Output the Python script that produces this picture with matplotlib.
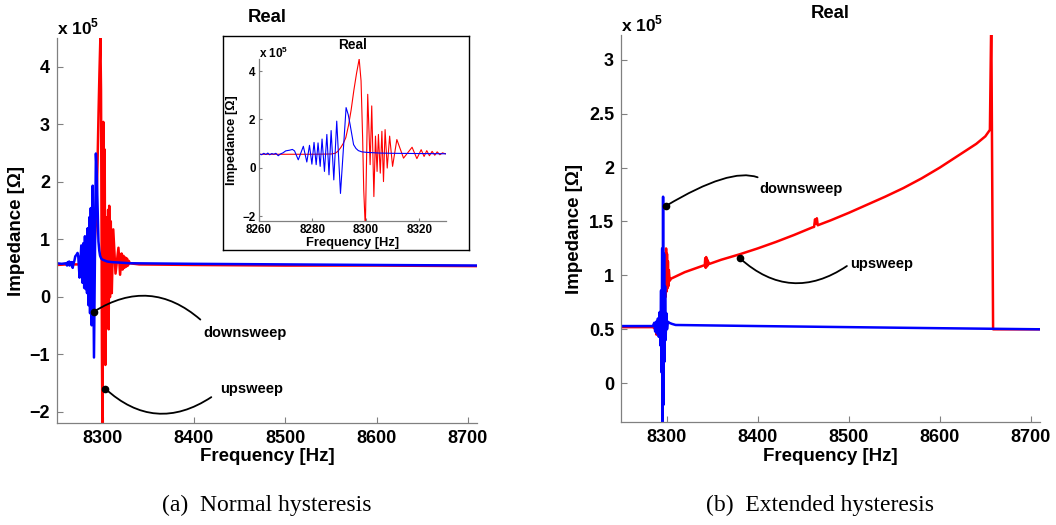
import matplotlib
matplotlib.use('Agg')
import matplotlib.pyplot as plt

plt.rcParams['font.family'] = ['Liberation Sans', 'DejaVu Sans']
plt.rcParams['font.weight'] = 'bold'
plt.rcParams['mathtext.fontset'] = 'custom'
plt.rcParams['mathtext.rm'] = 'Liberation Sans:bold'
plt.rcParams['mathtext.bf'] = 'Liberation Sans:bold'

# impedance values are in units of 1e5 Ohm
# (a) normal hysteresis - downsweep (blue)
freq_a_down = [8250, 8255, 8260, 8261, 8261.8, 8262.6, 8263.3, 8264, 8264.8, 8265.5,
               8266.3, 8267.2, 8268, 8269, 8270, 8271.5, 8272.5, 8273.3, 8274.7, 8276.6,
               8277.9, 8278.9, 8279.8, 8280.6, 8281.4, 8282.1, 8282.9, 8283.6, 8284.5, 8285.4,
               8286.2, 8287.0, 8288.0, 8289.1, 8290.5, 8292.6, 8293.4, 8294.1, 8295.4, 8296.3,
               8297.2, 8298.5, 8300.2, 8305, 8310, 8320, 8330, 8400, 8500, 8600, 8710]
z_a_down = [0.58, 0.57, 0.58, 0.54, 0.60, 0.55, 0.61, 0.54, 0.59, 0.56,
            0.60, 0.50, 0.57, 0.62, 0.70, 0.73, 0.76, 0.70, 0.33, 0.89,
            0.24, 0.93, 0.15, 1.05, 0.13, 1.03, 0.06, 1.19, -0.15, 1.38,
            -0.29, 1.54, -0.50, 1.93, -1.06, 2.49, 2.20, 1.79, 0.96, 0.80,
            0.71, 0.66, 0.64, 0.61, 0.60, 0.59, 0.58, 0.57, 0.56, 0.55, 0.54]

# (a) normal hysteresis - upsweep (red)
freq_a_up = [8250, 8260, 8270, 8280, 8287, 8288.5, 8289.5, 8290.5, 8291.5, 8292.5,
             8293.5, 8294.5, 8295.5, 8296.5, 8297.5, 8298.2, 8298.8, 8299.2, 8299.8, 8300.7,
             8301.6, 8302.2, 8303.0, 8303.6, 8304.2, 8304.7, 8305.4, 8306.0, 8306.6, 8307.2,
             8308.0, 8308.9, 8310.0, 8311.6, 8314.1, 8317.3, 8319.1, 8320.7, 8321.8, 8322.8,
             8323.8, 8324.8, 8325.8, 8326.7, 8327.7, 8328.7, 8329.7, 8340, 8400, 8500,
             8600, 8710]
z_a_up = [0.55, 0.56, 0.56, 0.56, 0.57, 0.60, 0.68, 0.82, 1.00, 1.25,
          1.75, 2.40, 3.20, 3.90, 4.50, 3.60, 1.20, -0.90, -2.50, 3.04,
          0.13, 2.56, -1.19, 1.31, -0.15, 1.38, -0.22, 1.51, -0.57, 1.58,
          -0.01, 1.31, 0.06, 1.17, 0.40, 0.85, 0.38, 0.75, 0.47, 0.71,
          0.50, 0.68, 0.52, 0.66, 0.54, 0.62, 0.58, 0.56, 0.55, 0.54,
          0.54, 0.53]

# (b) extended hysteresis - downsweep (blue)
freq_b_down = [8250, 8270, 8285, 8286.5, 8287.5, 8288.5, 8289.5, 8290.5, 8291.5, 8292.5,
               8293.3, 8294, 8294.6, 8295.2, 8295.6, 8296.2, 8296.7, 8297.3, 8297.8, 8298.4,
               8299, 8299.7, 8300.5, 8301.5, 8303, 8306, 8310, 8400, 8500, 8600, 8710]
z_b_down = [0.53, 0.53, 0.53, 0.56, 0.48, 0.57, 0.46, 0.60, 0.43, 0.66,
            0.35, 0.86, 0.10, 1.25, -0.60, 1.73, -0.20, 1.20, 0.20, 0.90,
            0.40, 0.65, 0.50, 0.57, 0.56, 0.55, 0.54, 0.53, 0.52, 0.51, 0.50]

# (b) extended hysteresis - upsweep (red)
freq_b_up = [8250, 8285, 8288, 8289, 8290, 8292, 8294, 8296, 8297, 8298,
             8298.5, 8299, 8299.5, 8300, 8300.5, 8301, 8301.5, 8302, 8302.5, 8303.5,
             8305, 8310, 8320, 8340, 8342, 8342.5, 8343, 8343.5, 8344, 8344.5,
             8345, 8345.5, 8346.5, 8360, 8380, 8400, 8420, 8440, 8460, 8462,
             8463, 8464, 8465, 8466, 8480, 8500, 8520, 8540, 8560, 8580,
             8600, 8620, 8640, 8650, 8655, 8656.5, 8658.5, 8680, 8710]
z_b_up = [0.52, 0.52, 0.50, 0.45, 0.53, 0.52, 0.55, 0.70, 0.90, 0.86,
          1.20, 0.80, 1.25, 0.85, 1.20, 0.88, 1.13, 0.90, 1.05, 0.95,
          0.97, 0.99, 1.03, 1.09, 1.095, 1.16, 1.07, 1.17, 1.08, 1.15,
          1.09, 1.13, 1.105, 1.145, 1.195, 1.25, 1.31, 1.375, 1.445, 1.45,
          1.52, 1.48, 1.53, 1.465, 1.51, 1.58, 1.655, 1.73, 1.81, 1.90,
          2.00, 2.11, 2.22, 2.29, 2.35, 3.40, 0.50, 0.50, 0.50]

freq_ticks = [8300, 8400, 8500, 8600, 8700]
inset_freq_ticks = [8260, 8280, 8300, 8320]
ticks_a = [-2, -1, 0, 1, 2, 3, 4]
inset_ticks = [-2, 0, 2, 4]
ticks_b = [0, 0.5, 1, 1.5, 2, 2.5, 3]
ticks_b_labels = ['0', '0.5', '1', '1.5', '2', '2.5', '3']

W, H = 1056, 525
fig = plt.figure(figsize=(W / 100, H / 100), dpi=100)

def px(x0, y0, x1, y1):
    return [x0 / W, 1 - y1 / H, (x1 - x0) / W, (y1 - y0) / H]

def style(ax, fs, pad):
    for s in ['top', 'right']:
        ax.spines[s].set_visible(False)
    for s in ['left', 'bottom']:
        ax.spines[s].set_color('#808080')
        ax.spines[s].set_linewidth(0.9)
    ax.tick_params(direction='in', length=4, width=0.8, color='#808080',
                   labelsize=fs, pad=pad)
    for lab in ax.get_xticklabels() + ax.get_yticklabels():
        lab.set_fontweight('bold')

def mark(ax, xy, end, label, label_xy, conn):
    ax.annotate('', xy=xy, xytext=end,
                arrowprops=dict(arrowstyle='-', connectionstyle=conn, color='k',
                                lw=1.3, shrinkA=0, shrinkB=0))
    ax.plot([xy[0]], [xy[1]], 'o', color='k', ms=4.5)
    ax.text(label_xy[0], label_xy[1], label, ha='left', va='center',
            fontsize=10.5, fontweight='bold')

# ---- (a) ----
axL = fig.add_axes(px(57, 38, 477, 423))
axL.plot(freq_a_up, z_a_up, color='#ff0000', lw=1.8)
axL.plot(freq_a_down, z_a_down, color='#0000ff', lw=1.8)
axL.set_xlim(8250, 8710)
axL.set_ylim(-2.2, 4.5)
axL.set_xticks(freq_ticks)
axL.set_yticks(ticks_a)
style(axL, 13, 5)
axL.set_title('Real', fontsize=13.3, fontweight='bold', pad=11.5)
axL.text(0, 1 + 4 / 385, r'x 10$^{5}$', transform=axL.transAxes, ha='left',
         va='baseline', fontsize=12.5, fontweight='bold')
axL.set_xlabel('Frequency [Hz]', fontsize=13.5, fontweight='bold')
axL.set_ylabel('Impedance [Ω]', fontsize=13.5, fontweight='bold')
axL.xaxis.set_label_coords(0.5, -25 / 385)
axL.xaxis.label.set_va('top')
axL.yaxis.set_label_coords(-32 / 420, 0.5)
mark(axL, (8290.7, -0.26), (8407, -0.40), 'downsweep', (8410.4, -0.63), 'arc3,rad=0.37')
mark(axL, (8302.7, -1.60), (8419, -1.75), 'upsweep', (8429, -1.61), 'arc3,rad=-0.39')

# inset frame
box = fig.add_axes(px(223, 36, 469, 250))
box.set_xticks([])
box.set_yticks([])
box.set_facecolor('white')
for s in box.spines.values():
    s.set_color('black')
    s.set_linewidth(1.0)
box.set_zorder(5)

ins = fig.add_axes(px(259, 59, 446, 221))
ins.set_zorder(6)
ins.plot(freq_a_up, z_a_up, color='#ff0000', lw=0.8)
ins.plot(freq_a_down, z_a_down, color='#0000ff', lw=0.8)
ins.set_xlim(8260, 8330)
ins.set_ylim(-2.2, 4.5)
ins.set_xticks(inset_freq_ticks)
ins.set_yticks(inset_ticks)
style(ins, 8.4, 2.5)
ins.tick_params(length=2.5)
ins.set_title('Real', fontsize=9.8, fontweight='bold', pad=7)
ins.text(0, 1 + 1 / 162, r'x 10$^{5}$', transform=ins.transAxes, ha='left',
         va='baseline', fontsize=8.5, fontweight='bold')
ins.set_xlabel('Frequency [Hz]', fontsize=9.3, fontweight='bold')
ins.set_ylabel('Impedance [Ω]', fontsize=9.3, fontweight='bold')
ins.xaxis.set_label_coords(0.5, -16 / 162)
ins.xaxis.label.set_va('top')
ins.yaxis.set_label_coords(-21 / 187, 0.5)

# ---- (b) ----
axR = fig.add_axes(px(621, 35, 1040, 422))
axR.plot(freq_b_up, z_b_up, color='#ff0000', lw=1.8)
axR.plot(freq_b_down, z_b_down, color='#0000ff', lw=1.8)
axR.set_xlim(8250, 8710)
axR.set_ylim(-0.36, 3.23)
axR.set_xticks(freq_ticks)
axR.set_yticks(ticks_b)
axR.set_yticklabels(ticks_b_labels)
style(axR, 13, 5)
axR.set_title('Real', fontsize=13.3, fontweight='bold', pad=12)
axR.text(0, 1 + 4 / 387, r'x 10$^{5}$', transform=axR.transAxes, ha='left',
         va='baseline', fontsize=12.5, fontweight='bold')
axR.set_xlabel('Frequency [Hz]', fontsize=13.5, fontweight='bold')
axR.set_ylabel('Impedance [Ω]', fontsize=13.5, fontweight='bold')
axR.xaxis.set_label_coords(0.5, -26 / 387)
axR.xaxis.label.set_va('top')
axR.yaxis.set_label_coords(-38 / 419, 0.5)
mark(axR, (8299.5, 1.645), (8400, 1.91), 'downsweep', (8401.6, 1.80),
     'angle3,angleA=-20,angleB=31')
mark(axR, (8380.8, 1.157), (8498, 1.087), 'upsweep', (8501.6, 1.11), 'arc3,rad=-0.39')

fig.text(267 / W, 1 - 505 / H, '(a)  Normal hysteresis', ha='center', va='center',
         fontsize=17, fontweight='normal', family=['Liberation Serif', 'DejaVu Serif'])
fig.text(820 / W, 1 - 505 / H, '(b)  Extended hysteresis', ha='center', va='center',
         fontsize=17, fontweight='normal', family=['Liberation Serif', 'DejaVu Serif'])

fig.savefig('out.png', dpi=100)
